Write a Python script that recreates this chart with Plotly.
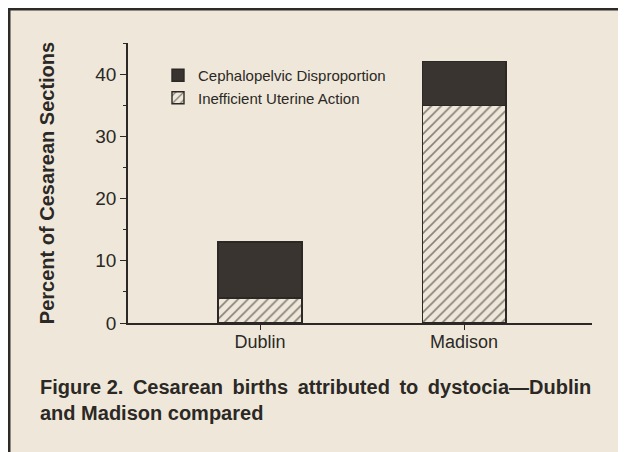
import plotly.graph_objects as go

categories = ["Dublin", "Madison"]
inefficient_uterine = [4, 35]
cephalopelvic = [9, 7]
y_ticks = [0, 10, 20, 30, 40]

BG = "#efe8da"
INK = "#2b2825"
DARK = "#3a3431"
FONT = "Arial, Liberation Sans, Helvetica, sans-serif"

fig = go.Figure()
fig.add_trace(go.Bar(
    x=categories, y=inefficient_uterine, name="Inefficient Uterine Action",
    width=0.41,
    marker=dict(color=BG, line=dict(color=INK, width=1.4),
                pattern=dict(shape="/", fgcolor="#1e1b19", bgcolor=BG, size=7, solidity=0.24)),
))
fig.add_trace(go.Bar(
    x=categories, y=cephalopelvic, name="Cephalopelvic Disproportion",
    width=0.41,
    marker=dict(color=DARK, line=dict(color=INK, width=1.4)),
))

# page body has an 8px offset; layout numbers below are in figure pixels
L, R, T, B = 120, 42, 35, 137
W, H = 626, 452
pw, ph = W - L - R, H - T - B

def px(x):
    return (x - L) / pw

def py(y):
    return (H - B - y) / ph

thin = "\u2009"
caption = ("<b>Figure 2." + thin + " Cesarean " + thin + "births " + thin + "attributed " + thin +
           "to " + thin + "dystocia—Dublin<br>and Madison compared</b>")

fig.update_layout(
    width=W, height=H,
    margin=dict(l=L, r=R, t=T, b=B),
    barmode="stack",
    paper_bgcolor=BG, plot_bgcolor=BG,
    font=dict(family=FONT, color=INK, size=18),
    showlegend=True,
    legend=dict(x=px(150), y=py(51), xanchor="left", yanchor="top",
                traceorder="reversed", bgcolor="rgba(0,0,0,0)",
                font=dict(size=15, color=INK), tracegroupgap=0,
                itemwidth=30),
    xaxis=dict(range=[-0.647, 1.627], showline=True, linecolor=INK, linewidth=1.5,
               ticks="outside", ticklen=5, tickcolor=INK, tickwidth=1.2,
               ticklabelstandoff=-3,
               showgrid=False, zeroline=False, tickfont=dict(size=18)),
    yaxis=dict(range=[0, 45], showline=True, linecolor=INK, linewidth=1.5,
               tickvals=y_ticks, ticks="outside", ticklen=6, tickcolor=INK, tickwidth=1.2,
               minor=dict(dtick=5, ticks="outside", ticklen=3, tickcolor=INK, tickwidth=1.2),
               showgrid=False, zeroline=False, tickfont=dict(size=19),
               title=dict(text="<b>Percent of Cesarean Sections</b>", font=dict(size=20), standoff=35)),
    shapes=[
        dict(type="line", xref="paper", yref="paper", x0=px(0), x1=px(640), y0=py(1), y1=py(1),
             line=dict(color="#2e2a28", width=3)),
        dict(type="line", xref="paper", yref="paper", x0=px(1), x1=px(1), y0=py(0), y1=py(470),
             line=dict(color="#2e2a28", width=3)),
    ],
    annotations=[
        dict(xref="paper", yref="paper", x=px(30), y=py(392), xanchor="left", yanchor="middle",
             showarrow=False, align="left",
             text=caption,
             font=dict(size=20, color=INK)),
    ],
)

fig.write_html("out.html")
